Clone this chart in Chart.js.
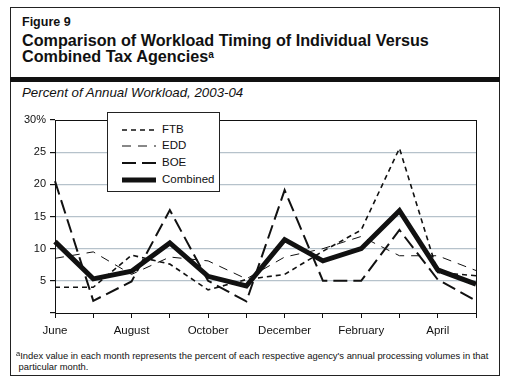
<!DOCTYPE html>
<html>
<head>
<meta charset="utf-8">
<script src="https://cdn.jsdelivr.net/npm/chart.js@4.4.1/dist/chart.umd.min.js"></script>
<style>
  html, body { margin: 0; padding: 0; background: #fff; }
  body { width: 508px; height: 382px; position: relative; overflow: hidden;
         font-family: "Liberation Sans", Arial, sans-serif; color: #111; }
  .frame { position: absolute; left: 10px; top: 7px; width: 490px; height: 369px;
           border: 1.5px solid #222; box-sizing: border-box; }
  .bar { position: absolute; left: 10px; top: 77px; width: 490px; height: 5px; background: #111; }
  .fig { position: absolute; left: 22px; top: 15px; font-size: 12.5px; font-weight: bold; line-height: 15px; }
  .title { position: absolute; left: 22px; top: 32px; font-size: 16.2px; font-weight: bold; line-height: 16px; white-space: nowrap; }
  .title sup { font-size: 62%; vertical-align: top; position: relative; top: -1px; }
  .sub { position: absolute; left: 22px; top: 85px; font-size: 13.3px; font-style: italic; line-height: 15px; white-space: nowrap; }
  .note { position: absolute; left: 16px; top: 350px; font-size: 9.4px; line-height: 11px; white-space: nowrap; }
  .note sup { font-size: 80%; vertical-align: top; position: relative; top: -2px; }
  #wrap { position: absolute; left: 0; top: 100px; width: 508px; height: 250px; }
  .legend { position: absolute; left: 107px; top: 112px; width: 113px; height: 80px;
            background: #fff; border: 1px solid #222; box-sizing: border-box; }
  .legend svg { position: absolute; left: 0; top: 0; }
  .legend span { position: absolute; left: 54px; font-size: 11.5px; line-height: 13px; }
</style>
</head>
<body>
<div class="frame"></div>
<div class="bar"></div>
<div class="fig">Figure 9</div>
<div class="title">Comparison of Workload Timing of Individual Versus<br>Combined Tax Agencies<sup>a</sup></div>
<div class="sub">Percent of Annual Workload, 2003-04</div>
<div id="wrap"><canvas id="chart" width="508" height="250"></canvas></div>
<div class="legend">
  <svg width="113" height="80">
    <line x1="14" y1="17" x2="48" y2="17" stroke="#111" stroke-width="1.6" stroke-dasharray="5 4"></line>
    <line x1="14" y1="33" x2="48" y2="33" stroke="#111" stroke-width="1" stroke-dasharray="9 7"></line>
    <line x1="14" y1="50" x2="48" y2="50" stroke="#111" stroke-width="2" stroke-dasharray="14 6"></line>
    <line x1="14" y1="67" x2="48" y2="67" stroke="#111" stroke-width="5"></line>
  </svg>
  <span style="top:10px">FTB</span>
  <span style="top:26px">EDD</span>
  <span style="top:43px">BOE</span>
  <span style="top:60px">Combined</span>
</div>
<div class="note"><sup>a</sup>Index value in each month represents the percent of each respective agency's annual processing volumes in that<br>&nbsp;particular month.</div>
<script>
// months June 2003 .. May 2004
const months = ["June", "July", "August", "September", "October", "November",
  "December", "January", "February", "March", "April", "May"];
const ftb = [4.0, 4.0, 9.0, 7.6, 3.6, 5.2, 6.0, 9.6, 12.9, 25.6, 6.3, 5.8];
const edd = [8.5, 9.5, 6.0, 8.7, 8.1, 5.3, 8.7, 10.0, 11.9, 8.9, 8.9, 6.6];
const boe = [20.5, 1.9, 4.9, 16.0, 5.0, 1.8, 19.1, 5.0, 5.0, 12.9, 5.2, 1.9];
const combined = [11.1, 5.3, 6.5, 10.9, 5.7, 4.2, 11.4, 8.1, 10.0, 15.9, 6.7, 4.5];
const yTicks = [0, 5, 10, 15, 20, 25, 30];

const ink = "#111";
const gridBlue = "#b6c2cb";

// black frame round the plot area
const plotBox = {
  id: "plotBox",
  beforeDatasetsDraw(chart) {
    const a = chart.chartArea;
    const ctx = chart.ctx;
    ctx.save();
    ctx.strokeStyle = ink;
    ctx.lineWidth = 1;
    ctx.strokeRect(Math.round(a.left) + 0.5, Math.round(a.top) + 0.5,
      Math.round(a.right - a.left), Math.round(a.bottom - a.top));
    ctx.restore();
  },
};

function lineSet(label, data, width, dash, order) {
  return {
    label: label,
    data: data,
    borderColor: ink,
    borderWidth: width,
    borderDash: dash,
    borderJoinStyle: "miter",
    borderCapStyle: "butt",
    pointRadius: 0,
    tension: 0,
    fill: false,
    order: order,
  };
}

new Chart(document.getElementById("chart"), {
  type: "line",
  data: {
    labels: months,
    datasets: [
      lineSet("FTB", ftb, 1.6, [5, 4], 3),
      lineSet("EDD", edd, 1, [9, 7], 2),
      lineSet("BOE", boe, 2, [14, 6], 1),
      lineSet("Combined", combined, 5, [], 0),
    ],
  },
  options: {
    responsive: false,
    animation: false,
    devicePixelRatio: 1,
    layout: { padding: { left: 0, right: 32, top: 20, bottom: 0 } },
    plugins: { legend: { display: false }, tooltip: { enabled: false } },
    scales: {
      x: {
        offset: false,
        afterFit: (s) => { s.height = 37; },
        border: { display: true, color: ink, width: 1 },
        grid: { drawOnChartArea: false, drawTicks: true, tickLength: 5, tickColor: ink },
        ticks: {
          autoSkip: false,
          maxRotation: 0,
          padding: 6,
          color: ink,
          font: { family: "Liberation Sans", size: 11.5 },
          callback: (v, i) => (i % 2 === 0 ? months[i] : ""),
        },
      },
      y: {
        min: 0,
        max: 30,
        afterFit: (s) => { s.width = 55; },
        afterBuildTicks: (s) => { s.ticks = yTicks.map((v) => ({ value: v })); },
        border: { display: true, color: ink, width: 1 },
        grid: {
          color: (c) => (c.tick && (c.tick.value === 0 || c.tick.value === 30) ? "rgba(0,0,0,0)" : gridBlue),
          tickColor: ink,
          tickLength: 5,
          lineWidth: 1.2,
        },
        ticks: {
          padding: 4,
          color: ink,
          font: { family: "Liberation Sans", size: 11 },
          callback: (v) => (v === 0 ? "" : v === 30 ? "30%" : String(v)),
        },
      },
    },
  },
  plugins: [plotBox],
});
</script>
</body>
</html>
